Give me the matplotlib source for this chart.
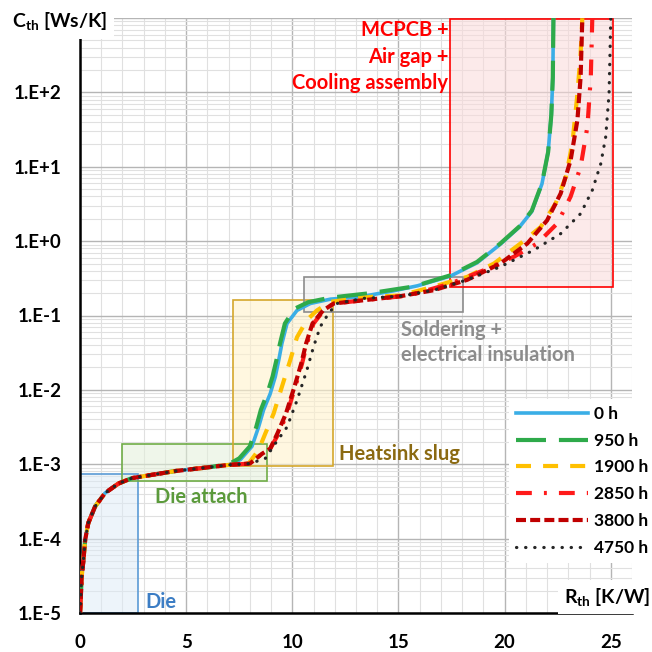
import matplotlib
matplotlib.use("Agg")
import matplotlib.pyplot as plt
from matplotlib.patches import Rectangle
from matplotlib.ticker import FixedLocator, FixedFormatter, LogLocator, NullFormatter

plt.rcParams['font.family'] = ['Lato', 'DejaVu Sans']
plt.rcParams['font.weight'] = 'bold'
plt.rcParams['mathtext.fontset'] = 'custom'
plt.rcParams['mathtext.rm'] = 'Lato:bold'
plt.rcParams['mathtext.bf'] = 'Lato:bold'
plt.rcParams['mathtext.it'] = 'Lato:bold'

# ---------------- data ----------------
rth_common = [0.0, 0.02, 0.08, 0.16, 0.24, 0.39, 0.71, 1.18, 1.81, 2.44, 3.38, 4.48, 6.05]
cth_common = [1.0e-5, 1.26e-5, 3.1e-5, 5.1e-5, 9.5e-5, 1.62e-4, 2.7e-4, 4.1e-4, 5.5e-4,
              6.5e-4, 7.2e-4, 8.1e-4, 9.1e-4]

rth_0h = [7.0, 7.55, 8.1, 8.41, 8.65, 8.96, 9.2, 9.36, 9.51, 9.75, 10.22, 10.85, 11.8,
          13.18, 14.75, 15.9, 17.45, 18.7, 19.8, 20.7, 21.28, 21.76, 22.05, 22.2, 22.27, 22.3]
cth_0h = [9.8e-4, 1.15e-3, 1.74e-3, 3.16e-3, 5.4e-3, 8.9e-3, 1.51e-2, 2.5e-2, 4.2e-2, 7.8e-2,
          0.117, 0.145, 0.166, 0.178, 0.214, 0.251, 0.339, 0.51, 0.91, 1.55, 2.5, 5.9, 15.8,
          50, 158, 1000]

rth_950h = [7.0, 7.5, 8.0, 8.3, 8.52, 8.82, 9.07, 9.25, 9.42, 9.65, 10.1, 10.75, 11.8, 13.7,
            15.7, 17.45, 18.7, 19.8, 20.7, 21.28, 21.76, 22.05, 22.2, 22.27, 22.3]
cth_950h = [1.0e-3, 1.2e-3, 1.74e-3, 3.16e-3, 5.4e-3, 8.9e-3, 1.51e-2, 2.5e-2, 4.2e-2, 7.8e-2,
            0.123, 0.151, 0.174, 0.2, 0.245, 0.347, 0.525, 0.93, 1.58, 2.57, 6.0, 15.8, 50,
            158, 1000]

rth_1900h = [7.0, 7.94, 8.41, 8.73, 9.12, 9.51, 9.9, 10.22, 10.69, 11.16, 11.8, 13.7, 15.1,
             16.67, 18.24, 19.5, 20.75, 21.7, 22.4, 22.88, 23.19, 23.43, 23.58, 23.66]
cth_1900h = [9.8e-4, 1.02e-3, 1.55e-3, 2.6e-3, 4.8e-3, 1.1e-2, 2.5e-2, 5.1e-2, 8.7e-2, 0.117,
             0.153, 0.178, 0.186, 0.245, 0.331, 0.50, 0.93, 1.55, 3.2, 7.3, 20.4, 96.6, 331, 1000]

rth_2850h = [7.0, 8.0, 8.57, 8.96, 9.36, 9.75, 10.14, 10.46, 10.69, 11.0, 11.48, 11.95, 13.5,
             15.5, 17.45, 19.03, 20.44, 21.54, 22.49, 23.11, 23.58, 23.9, 24.06, 24.13]
cth_2850h = [9.8e-4, 1.02e-3, 1.38e-3, 1.62e-3, 2.6e-3, 4.8e-3, 1.1e-2, 2.26e-2, 4.2e-2,
             7.8e-2, 0.117, 0.145, 0.162, 0.186, 0.269, 0.407, 0.617, 0.93, 1.74, 3.98, 10,
             34.7, 162, 1000]

rth_3800h = [7.0, 8.0, 8.57, 8.96, 9.3, 9.7, 10.1, 10.42, 10.65, 10.95, 11.45, 11.95, 13.5,
             15.1, 16.67, 18.24, 19.8, 21.07, 22.0, 22.64, 23.11, 23.43, 23.58, 23.66]
cth_3800h = [9.8e-4, 1.02e-3, 1.38e-3, 1.62e-3, 2.6e-3, 4.8e-3, 1.1e-2, 2.26e-2, 4.2e-2,
             7.8e-2, 0.117, 0.145, 0.162, 0.182, 0.219, 0.302, 0.50, 0.93, 1.9, 4.37, 12.3,
             42.7, 162, 1000]

rth_4750h = [7.0, 8.0, 8.73, 9.2, 9.75, 10.22, 10.69, 11.0, 11.32, 11.71, 12.1, 13.36, 15.1,
             16.67, 18.24, 19.8, 21.38, 22.64, 23.58, 24.13, 24.53, 24.76, 24.92, 25.0]
cth_4750h = [9.8e-4, 1.02e-3, 1.2e-3, 1.9e-3, 3.16e-3, 7.2e-3, 1.86e-2, 3.8e-2, 7.1e-2, 0.107,
             0.145, 0.17, 0.182, 0.219, 0.302, 0.452, 0.759, 1.26, 2.34, 4.84, 11.0, 25.1,
             96.6, 1000]

series_labels = ['0 h', '950 h', '1900 h', '2850 h', '3800 h', '4750 h']

xtick_values = [0, 5, 10, 15, 20, 25]
ytick_values = [1e-5, 1e-4, 1e-3, 1e-2, 1e-1, 1e0, 1e1, 1e2]
ytick_labels = ['1.E-5', '1.E-4', '1.E-3', '1.E-2', '1.E-1', '1.E+0', '1.E+1', '1.E+2']

# region boxes: (x0, x1, y0, y1)
region_die = (0.0, 2.73, 1e-5, 7.3e-4)
region_attach = (2.0, 8.8, 5.9e-4, 1.86e-3)
region_slug = (7.23, 11.92, 9.6e-4, 0.164)
region_solder = (10.57, 18.02, 0.11, 0.325)
region_mcpcb = (17.42, 25.1, 0.24, 955)

# ---------------- figure ----------------
fig = plt.figure(figsize=(6.52, 6.52), dpi=100)
ax = fig.add_axes([80 / 652, 39 / 652, 552 / 652, 595 / 652])
ax.set_yscale('log')
ax.set_xlim(0, 26)
ax.set_ylim(1e-5, 1e3)

ax.set_axisbelow(True)
ax.xaxis.set_major_locator(FixedLocator(xtick_values))
ax.xaxis.set_minor_locator(FixedLocator(list(range(0, 27))))
ax.yaxis.set_major_locator(FixedLocator(ytick_values + [1e3]))
ax.yaxis.set_major_formatter(FixedFormatter(ytick_labels + ['']))
ax.yaxis.set_minor_locator(LogLocator(base=10, subs=range(2, 10), numticks=20))
ax.yaxis.set_minor_formatter(NullFormatter())
ax.grid(which='major', color='#B5B5B5', lw=1.0)
ax.grid(which='minor', color='#E0E0E0', lw=0.8)
ax.tick_params(which='both', length=0)
ax.tick_params(axis='y', pad=13, labelsize=13.5)
ax.tick_params(axis='x', pad=15, labelsize=13.5)
for lab in ax.get_xticklabels() + ax.get_yticklabels():
    lab.set_fontweight('bold')

for s in ['top', 'right']:
    ax.spines[s].set_visible(False)
for s in ['left', 'bottom']:
    ax.spines[s].set_color('black')
    ax.spines[s].set_linewidth(1.8)

# region boxes
def box(region, edge, face, alpha):
    x0, x1, y0, y1 = region
    ax.add_patch(Rectangle((x0, y0), x1 - x0, y1 - y0, facecolor=face, alpha=alpha,
                           edgecolor='none', zorder=1.5))
    ax.add_patch(Rectangle((x0, y0), x1 - x0, y1 - y0, facecolor='none',
                           edgecolor=edge, lw=1.2, zorder=1.6))

box(region_die, '#5B9BD5', '#DDEBF7', 0.5)
box(region_attach, '#70AD47', '#E2F0D9', 0.55)
box(region_slug, '#D4A72C', '#FFF2CC', 0.6)
box(region_solder, '#8C8C8C', '#E7E7E7', 0.45)
box(region_mcpcb, '#FF0000', '#FBDADA', 0.55)

# curves
styles = [
    dict(color='#3AAEE6', lw=2.6, ls='-'),
    dict(color='#2EAA4A', lw=3.0, ls=(0, (7.2, 3.1))),
    dict(color='#FFC000', lw=3.0, ls=(0, (3.6, 2.9))),
    dict(color='#FF1A1A', lw=3.0, ls=(0, (3.8, 2.9, 0.7, 2.9))),
    dict(color='#C00000', lw=3.0, ls=(0, (2.4, 1.0))),
    dict(color='#262626', lw=2.3, ls=(0, (0.1, 2.75)), dash_capstyle='round'),
]
data = [(rth_0h, cth_0h), (rth_950h, cth_950h), (rth_1900h, cth_1900h),
        (rth_2850h, cth_2850h), (rth_3800h, cth_3800h), (rth_4750h, cth_4750h)]
for (r, c), lab, st in zip(data, series_labels, styles):
    ax.plot(rth_common + r, cth_common + c, label=lab, zorder=3, **st)

# region labels
fs_reg = 14.5
ax.text(3.07, 1.41e-5, 'Die', color='#3C7DC4', fontsize=fs_reg, fontweight='bold',
        ha='left', va='center', zorder=4)
ax.text(3.54, 3.6e-4, 'Die attach', color='#5B9A3B', fontsize=fs_reg, fontweight='bold',
        ha='left', va='center', zorder=4)
ax.text(12.2, 1.38e-3, 'Heatsink slug', color='#8B6A12', fontsize=fs_reg, fontweight='bold',
        ha='left', va='center', zorder=4)
ax.text(15.1, 10 ** -1.196, 'Soldering +', color='#8C8C8C', fontsize=fs_reg,
        fontweight='bold', ha='left', va='center', zorder=4)
ax.text(15.1, 10 ** -1.53, 'electrical insulation', color='#8C8C8C', fontsize=fs_reg,
        fontweight='bold', ha='left', va='center', zorder=4)
ax.text(17.35, 686, 'MCPCB +', color='#FF0000', fontsize=fs_reg, fontweight='bold',
        ha='right', va='center', zorder=4)
ax.text(17.35, 297, 'Air gap +', color='#FF0000', fontsize=fs_reg, fontweight='bold',
        ha='right', va='center', zorder=4)
ax.text(17.35, 133, 'Cooling assembly', color='#FF0000', fontsize=fs_reg, fontweight='bold',
        ha='right', va='center', zorder=4)

# axis labels
fig.text(12 / 652, 1 - 21 / 652, r'C$_{\mathrm{th}}$ [Ws/K]', fontsize=14, fontweight='bold',
         ha='left', va='center', zorder=10,
         bbox=dict(facecolor='white', edgecolor='none', pad=5))
fig.text(650 / 652, 1 - 597 / 652, r'R$_{\mathrm{th}}$ [K/W]', fontsize=14, fontweight='bold',
         ha='right', va='center', zorder=10,
         bbox=dict(facecolor='white', edgecolor='none', pad=4))

leg = ax.legend(loc='upper left', bbox_to_anchor=(509 / 652, 1 - 399 / 652),
                bbox_transform=fig.transFigure, frameon=True, fancybox=False,
                edgecolor='none', facecolor='white', framealpha=1.0,
                prop=dict(family=['Lato', 'DejaVu Sans'], weight='bold', size=12.5),
                handlelength=4.15, handletextpad=0.33, labelspacing=0.62,
                borderpad=0.4, borderaxespad=0)
leg.set_zorder(20)

fig.savefig('out.png', dpi=100)
